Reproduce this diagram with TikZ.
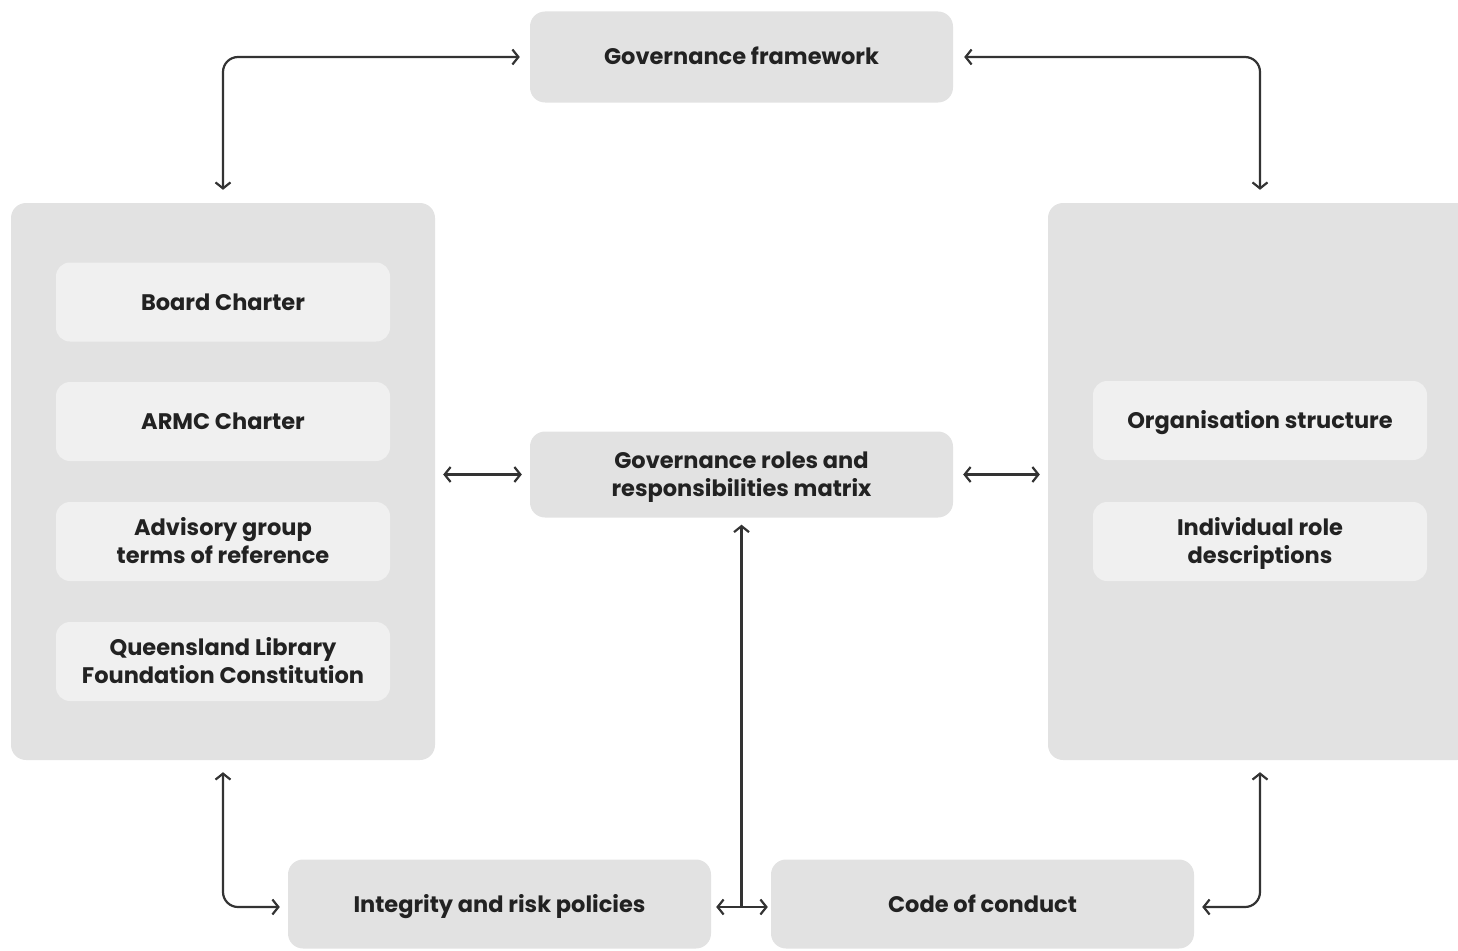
\documentclass[tikz,border=0pt]{standalone}
\usepackage{fontspec}
\setmainfont{Poppins}
\usetikzlibrary{arrows.meta}
\definecolor{panel}{HTML}{E2E2E2}
\definecolor{inner}{HTML}{F0F0F0}
\definecolor{ink}{HTML}{222222}
\definecolor{wire}{HTML}{333333}
\tikzset{
  box/.style={fill=panel, rounded corners=15pt, inner sep=0pt, align=center,
    text=ink, font=\fontsize{22.5}{28}\selectfont\bfseries,
    text height=16pt, text depth=0pt},
  twoline/.style={text height=44pt},
  subbox/.style={box, fill=inner, rounded corners=14pt, minimum width=334pt, minimum height=79pt},
  wide/.style={box, minimum width=423pt},
  link/.style={draw=wire, line width=2.2pt, rounded corners=15pt, {Straight Barb[length=6pt,width=15pt]}-{Straight Barb[length=6pt,width=15pt]}},
  onehead/.style={draw=wire, line width=2.2pt, {Straight Barb[length=6pt,width=15pt]}-}
}
\begin{document}
\begin{tikzpicture}[x=1pt, y=-1pt]
  \useasboundingbox (0,0) rectangle (1458,950);
  \clip (0,0) rectangle (1458,950);

  % top and centre boxes
  \node[wide, minimum height=91pt] (gf)  at (741.5, 57)    {Governance framework};
  \node[wide, twoline, minimum height=86pt] (mat) at (741.5, 474.5) {Governance roles and\\responsibilities matrix};

  % left panel with its charters
  \node[box, minimum width=424pt, minimum height=557pt] (lp) at (223, 481.5) {};
  \node[subbox] (bc)  at (223, 302)   {Board Charter};
  \node[subbox] (ar)  at (223, 421.5) {ARMC Charter};
  \node[subbox, twoline] (ad)  at (223, 541.5) {Advisory group\\terms of reference};
  \node[subbox, twoline] (qlf) at (223, 661.5) {Queensland Library\\Foundation Constitution};

  % right panel with organisation documents
  \node[box, minimum width=424pt, minimum height=557pt] (rp) at (1260, 481.5) {};
  \node[subbox] (org) at (1260, 420.5) {Organisation structure};
  \node[subbox, twoline] (ind) at (1260, 541.5) {Individual role\\descriptions};

  % bottom boxes
  \node[wide, minimum height=89pt] (irp) at (499.5, 904) {Integrity and risk policies};
  \node[wide, minimum height=89pt] (coc) at (982.5, 904) {Code of conduct};

  % connectors
  \draw[link] ([xshift=-10pt]gf.west) -| ([yshift=13pt]lp.north);
  \draw[link] ([xshift=11pt]gf.east) -| ([yshift=13pt]rp.north);
  \draw[link] ([xshift=8pt]lp.east |- mat.west) -- ([xshift=-8pt]mat.west);
  \draw[link] ([xshift=10pt]mat.east) -- ([xshift=-8pt]rp.west |- mat.east);
  \draw[link] ([yshift=-12pt]lp.south) |- ([xshift=-8pt, yshift=-3pt]irp.west);
  \draw[link] ([yshift=-12pt]rp.south) |- ([xshift=8pt, yshift=-3pt]coc.east);
  \draw[link] ([xshift=5pt, yshift=-3pt]irp.east) -- ([xshift=-3pt, yshift=-3pt]coc.west);
  \coordinate (join) at ([yshift=-3pt]mat.south |- irp.east);
  \draw[onehead] ([yshift=-7pt]mat.south) -- (join);
\end{tikzpicture}
\end{document}
